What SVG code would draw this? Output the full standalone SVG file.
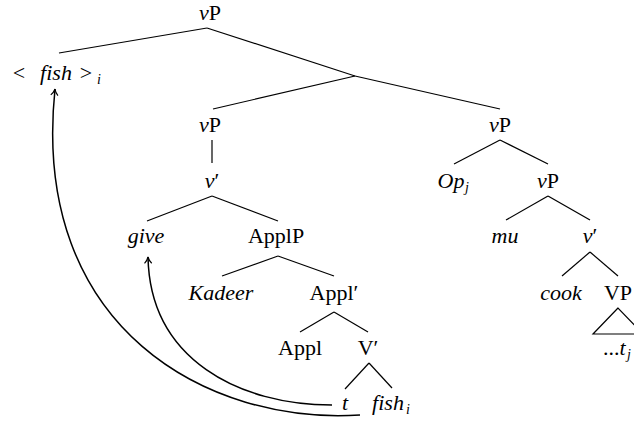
<svg xmlns="http://www.w3.org/2000/svg" width="634" height="423" viewBox="0 0 634 423">
<style>
text{font-family:"Times New Roman","Liberation Serif",Tinos,"DejaVu Serif","Noto Serif",serif;font-size:22px;fill:#000}
.m{font-style:italic}
.c{text-anchor:middle}
.s{font-size:14px;font-style:italic}
.e{stroke:#000;stroke-width:1.2;fill:none}
.a{stroke:#000;stroke-width:1.5;fill:none}
</style>
<defs>
<marker id="ah" viewBox="0 0 10 10" refX="9" refY="5" markerWidth="9" markerHeight="9" markerUnits="userSpaceOnUse" orient="auto">
<path d="M2,1 Q5,4 9,5 Q5,6 2,9" fill="none" stroke="#000" stroke-width="1.3"/>
</marker>
</defs>
<rect width="634" height="423" fill="#fff"/>
<g id="connectors">
<line class="e" x1="207" y1="28" x2="59" y2="53"/>
<line class="e" x1="207" y1="28" x2="355" y2="76"/>
<line class="e" x1="355" y1="76" x2="213" y2="109"/>
<line class="e" x1="355" y1="76" x2="500" y2="109"/>
<line class="e" x1="212" y1="140" x2="212" y2="163"/>
<line class="e" x1="212" y1="196" x2="147" y2="221"/>
<line class="e" x1="212" y1="196" x2="278" y2="221"/>
<line class="e" x1="278" y1="256" x2="222" y2="276"/>
<line class="e" x1="278" y1="256" x2="334" y2="276"/>
<line class="e" x1="334" y1="312" x2="300" y2="332"/>
<line class="e" x1="334" y1="312" x2="368" y2="332"/>
<line class="e" x1="369" y1="363" x2="345" y2="389"/>
<line class="e" x1="369" y1="363" x2="392" y2="388"/>
<line class="e" x1="500" y1="140" x2="454" y2="164"/>
<line class="e" x1="500" y1="140" x2="548" y2="164"/>
<line class="e" x1="548" y1="196" x2="506" y2="220"/>
<line class="e" x1="548" y1="196" x2="590" y2="220"/>
<line class="e" x1="590" y1="252" x2="562" y2="276"/>
<line class="e" x1="590" y1="252" x2="618" y2="276"/>
<path class="e" d="M618,308 L593,334 L643,334 Z"/>
<path class="a" d="M360,415 C210,425 30,330 55,89" marker-end="url(#ah)"/>
<path class="a" d="M332,405 C240,405 150,360 148,257" marker-end="url(#ah)"/>
</g>
<g id="vP-root"><text x="210" y="20" class="c"><tspan class="m">v</tspan>P</text></g>
<g id="fish-moved"><text x="19" y="80" class="c">&lt;</text><text x="56" y="80" class="m c">fish</text><text x="86" y="80" class="c">&gt;</text><text x="97" y="84" class="s">i</text></g>
<g id="vP-left"><text x="210" y="132" class="c"><tspan class="m">v</tspan>P</text></g>
<g id="vbar-left"><text x="212" y="188" class="c"><tspan class="m">v</tspan>′</text></g>
<g id="give"><text x="146" y="243" class="m c">give</text></g>
<g id="ApplP"><text x="276" y="243" class="c">ApplP</text></g>
<g id="Kadeer"><text x="221" y="300" class="m c">Kadeer</text></g>
<g id="Applbar"><text x="334" y="300" class="c">Appl′</text></g>
<g id="Appl"><text x="300" y="355" class="c">Appl</text></g>
<g id="Vbar"><text x="368" y="355" class="c">V′</text></g>
<g id="t"><text x="345" y="410" class="c m">t</text></g>
<g id="fish-i"><text x="388" y="410" class="m c">fish</text><text x="406" y="414" class="s">i</text></g>
<g id="vP-right"><text x="500" y="132" class="c"><tspan class="m">v</tspan>P</text></g>
<g id="Op-j"><text x="451" y="188" class="m c">Op</text><text x="465" y="192" class="s">j</text></g>
<g id="vP-inner"><text x="548" y="188" class="c"><tspan class="m">v</tspan>P</text></g>
<g id="mu"><text x="505" y="243" class="c m">mu</text></g>
<g id="vbar-right"><text x="590" y="243" class="c"><tspan class="m">v</tspan>′</text></g>
<g id="cook"><text x="561" y="300" class="m c">cook</text></g>
<g id="VP"><text x="618" y="300" class="c">VP</text></g>
<g id="t-j"><text x="603" y="355">...<tspan class="m">t</tspan></text><text x="627" y="359" class="s">j</text></g>
</svg>
